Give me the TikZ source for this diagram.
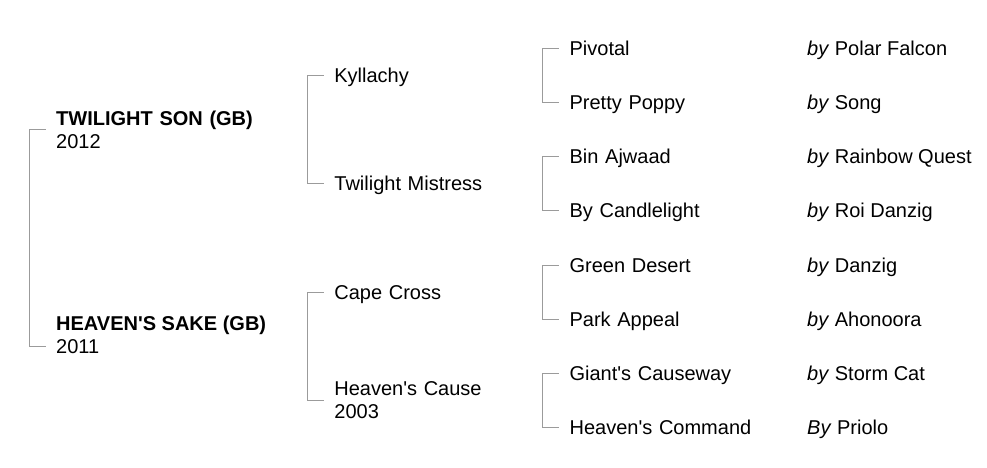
\documentclass[tikz,border=0pt]{standalone}
\usepackage{fontspec}
\setmainfont{Liberation Sans}
\usetikzlibrary{calc,positioning}
\definecolor{bracketgray}{RGB}{155,155,155}

\begin{document}
\begin{tikzpicture}[x=1pt,y=1pt,grow'=right,
    every node/.style={anchor=west,inner sep=0pt,
        font=\fontsize{20}{23}\selectfont,text height=14.3pt,text depth=0pt},
    every child node/.style={text width=200pt,align=left},
    twoline/.style={text height={},text depth={}},
    edge from parent/.style={draw=bracketgray,line width=1pt},
    edge from parent path={let \p1=(\tikzchildnode.west),\p2=(\tikzparentnode.center)
        in (\x1-27pt,\y2) |- (\x1-10pt,\y1)},
    level 1/.style={level distance=0pt,sibling distance=217pt},
    level 2/.style={level distance=178pt,sibling distance=108pt},
    level 3/.style={level distance=135pt,sibling distance=54pt}]
    \useasboundingbox (0,0) rectangle (987,468);
    \coordinate (root) at (56,230)
        child {node[twoline] (son) {\textbf{TWILIGHT SON (GB)}\\2012}
            child {node (kyllachy) {Kyllachy}
                child {node (pivotal) {Pivotal}}
                child {node (poppy) {Pretty Poppy}}}
            child {node (mistress) {Twilight Mistress}
                child {node (binajwaad) {Bin Ajwaad}}
                child {node (candlelight) {By Candlelight}}}}
        child {node (sakeyr) {2011}
            child {node (capecross) {Cape Cross}
                child {node (greendesert) {Green Desert}}
                child {node (parkappeal) {Park Appeal}}}
            child {node[twoline] (cause) {Heaven\textquotesingle s Cause\\2003}
                child {node (giants) {Giant\textquotesingle s Causeway}}
                child {node (command) {Heaven\textquotesingle s Command}}}};
    \node[above=8.7pt of sakeyr.north west,anchor=south west] (sake)
        {\textbf{HEAVEN\textquotesingle S SAKE (GB)}};
    % sires of the third row
    \foreach \n/\b/\s in {pivotal/by/Polar Falcon,poppy/by/Song,
        binajwaad/by/Rainbow Quest,candlelight/by/Roi Danzig,
        greendesert/by/Danzig,parkappeal/by/Ahonoora,
        giants/by/Storm Cat,command/By/Priolo}
        \node (\n-sire) at (807,0 |- \n.west) {\textit{\b} \s};
\end{tikzpicture}
\end{document}
